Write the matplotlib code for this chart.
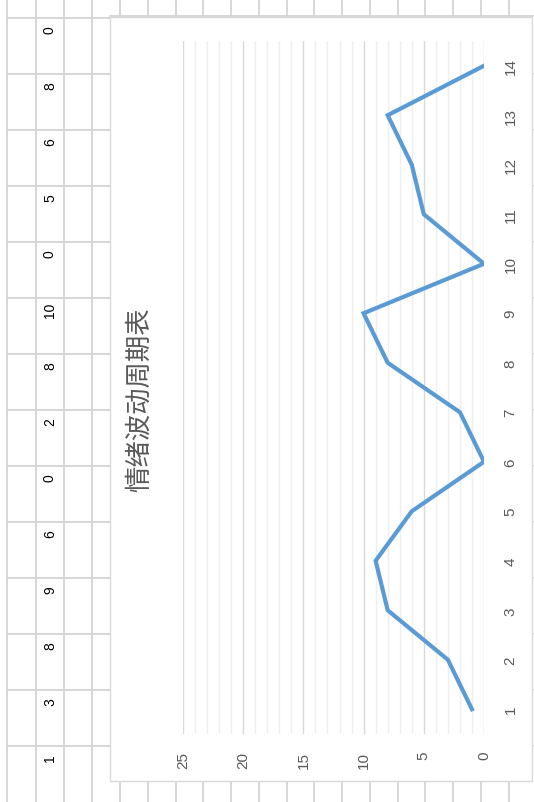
import numpy as np
import matplotlib
matplotlib.use("Agg")
import matplotlib.pyplot as plt
from matplotlib.patches import Rectangle
from matplotlib.ticker import MultipleLocator

# data: day index and mood value (chart is shown rotated 90 degrees)
days = list(range(1, 15))
mood = [1, 3, 8, 9, 6, 0, 2, 8, 10, 0, 5, 6, 8, 0]
title = "情绪波动周期表"
value_ticks = [0, 5, 10, 15, 20, 25]

W, H = 534, 803
fig = plt.figure(figsize=(W / 100, H / 100), dpi=100)

# background: the spreadsheet behind the chart, in pixel coordinates
bg = fig.add_axes([0, 0, 1, 1])
bg.set_xlim(0, W)
bg.set_ylim(H, 0)
bg.axis("off")
grid_c = "#d4d4d4"

for x in [7, 36, 64, 92]:
    bg.plot([x, x], [0, H], color=grid_c, lw=1.3)
row_tops = [19 + 56 * k for k in range(len(days))]
for y in row_tops:
    bg.plot([7, 110], [y, y], color=grid_c, lw=1.3)
# the data cells (column is read top to bottom, series reversed)
for y, v in zip(row_tops, mood[::-1]):
    bg.text(50, y + 11, str(v), rotation=90, ha="center", va="center",
            fontsize=10, color="black", family="Liberation Sans")

# column strips above and below the chart
bg.plot([110, W], [17, 17], color=grid_c, lw=1.3)
for x in np.arange(120, W, 27.75):
    bg.plot([x, x], [0, 17], color=grid_c, lw=1.3)
    bg.plot([x, x], [782, H], color=grid_c, lw=1.3)
for y in [75 + 56 * k for k in range(13)]:
    bg.plot([532, W], [y, y], color=grid_c, lw=1.3)

# chart area
bg.add_patch(Rectangle((110, 18), 422, 764, facecolor="white",
                       edgecolor="#d9d9d9", lw=1, zorder=3))

bg.text(140, 400, title, rotation=90, ha="center", va="center",
        fontsize=19, color="#595959",
        family=["Noto Sans CJK SC", "DejaVu Sans"], zorder=4)

# plot area
left, right = 183 / W, 484 / W
bottom, top = 1 - 735 / H, 1 - 42 / H
ax = fig.add_axes([left, bottom, right - left, top - bottom])
ax.set_facecolor("none")
ax.set_zorder(5)

ax.plot(mood, days, color="#5B9BD5", lw=3, solid_joinstyle="miter", zorder=3)

ax.set_xlim(25, 0)
ax.set_ylim(0.5, 14.5)
ax.xaxis.set_major_locator(MultipleLocator(5))
ax.xaxis.set_minor_locator(MultipleLocator(1))
ax.set_xticks(value_ticks)
ax.set_yticks(days)
ax.grid(axis="x", which="minor", color="#efefef", lw=1)
ax.grid(axis="x", which="major", color="#d9d9d9", lw=1)
for s in ax.spines.values():
    s.set_visible(False)

ax.yaxis.tick_right()
ax.tick_params(axis="both", which="both", length=0, colors="#595959",
               labelsize=11)
ax.tick_params(axis="x", pad=12)
ax.tick_params(axis="y", pad=14)
for lab in ax.get_xticklabels() + ax.get_yticklabels():
    lab.set_rotation(90)
    lab.set_family("Liberation Sans")
for lab in ax.get_yticklabels():
    lab.set_va("center")
for lab in ax.get_xticklabels():
    lab.set_ha("center")

fig.savefig("out.png", dpi=100)
